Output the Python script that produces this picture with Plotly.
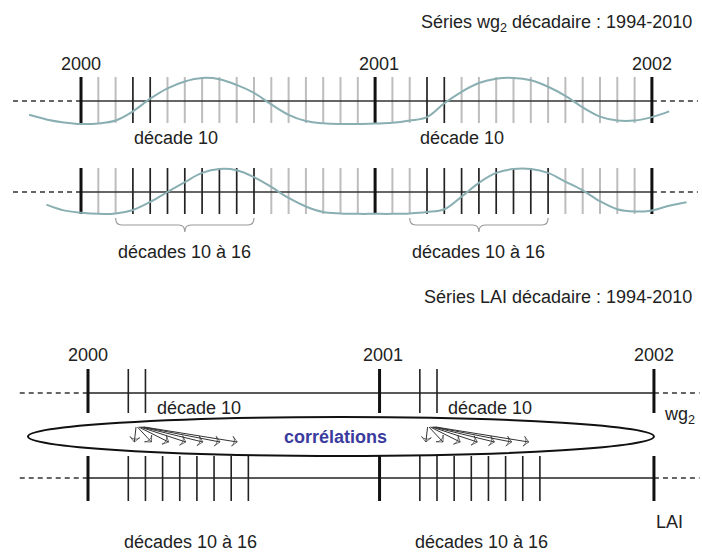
import plotly.graph_objects as go

W, H = 702, 552

# ---------------- data ----------------
years = [2000, 2001, 2002]
year_index = [0, 17, 33]                  # schematic decade-mark index of each 1 January
decade_single = [10, 11]                  # bounds of "décade 10"
decade_range = [10, 11, 12, 13, 14, 15, 16, 17]   # bounds of "décades 10 à 16"
corr_lags = [0, 1, 2, 3, 4, 5, 6]         # lags of the correlation arrows (décade 10 -> 10..16)

# wg2 seasonal curve, read at the decade marks (normalised amplitude)
wave1_t = list(range(-3, 35))
wave1_v = [-0.6, -0.8, -0.93, -1.0, -0.98, -0.85, -0.45, 0.1, 0.55, 0.85, 1.0, 0.95,
           0.7, 0.35, -0.15, -0.6, -0.87, -0.97, -1.0, -1.0, -0.98, -0.95, -0.85, -0.7,
           -0.1, 0.4, 0.78, 0.97, 1.0, 0.9, 0.62, 0.22, -0.28, -0.68, -0.85, -0.85,
           -0.7, -0.45]
wave2_t = list(range(-2, 36))
wave2_v = [-0.55, -0.8, -0.9, -0.95, -0.93, -0.78, -0.43, 0.0, 0.43, 0.83, 1.0, 0.95,
           0.65, 0.22, -0.26, -0.63, -0.87, -0.93, -0.95, -0.95, -0.95, -0.93, -0.87,
           -0.75, -0.2, 0.4, 0.83, 1.0, 1.0, 0.83, 0.45, 0.07, -0.4, -0.75, -0.85, -0.8,
           -0.6, -0.45]

# ---------------- layout constants ----------------
TOP_X0, TOP_DX = 81, 17.3      # pixel of 2000 and decade spacing, upper panels
BOT_X0, BOT_DX = 88, 17.15     # lower panel
TOP_OFF = -7                   # decade bound -> mark offset from the year (upper)
BOT_OFF = -7.65                # idem (lower)
FONT = "Liberation Sans, Arial, sans-serif"
TXT = "#222222"
FS = 18

fig = go.Figure()


def seg(xs, y0, y1):
    X, Y = [], []
    for x in xs:
        X += [x, x, None]
        Y += [y0, y1, None]
    return X, Y


def add_lines(xs, y0, y1, color, width, xa="x"):
    X, Y = seg(xs, y0, y1)
    fig.add_trace(go.Scatter(x=X, y=Y, mode="lines", xaxis=xa, yaxis="y",
                             line=dict(color=color, width=width), hoverinfo="skip",
                             showlegend=False))


def add_hline(x0, x1, y, color, width, dash="solid", xa="x"):
    fig.add_trace(go.Scatter(x=[x0, x1], y=[y, y], mode="lines", xaxis=xa, yaxis="y",
                             line=dict(color=color, width=width, dash=dash),
                             hoverinfo="skip", showlegend=False))


# ---------------- upper panels (wg2) ----------------
rows = [
    dict(base=101, top=77, bot=123, bounds=decade_single, wt=wave1_t, wv=wave1_v, ya="y2"),
    dict(base=192, top=168, bot=214, bounds=decade_range, wt=wave2_t, wv=wave2_v, ya="y3"),
]
first, last = year_index[0], year_index[-1]
for r in rows:
    black = [yi + d + TOP_OFF for yi in year_index[:-1] for d in r["bounds"]]
    gray = [t for t in range(first + 1, last) if t not in black and t not in year_index]
    add_lines(gray, r["top"], r["bot"], "#bdbdbd", 2)
    add_hline(first, last, r["base"], "#333333", 1.6)
    add_hline(first - 3.93, first, r["base"], "#333333", 1.3, dash="5px,4px")
    add_hline(last, last + 2.66, r["base"], "#333333", 1.3, dash="5px,4px")
    fig.add_trace(go.Scatter(x=r["wt"], y=r["wv"], mode="lines", xaxis="x", yaxis=r["ya"],
                             line=dict(color="#8aafb2", width=2, shape="spline", smoothing=1.0),
                             hoverinfo="skip", showlegend=False))
    add_lines(black, r["top"], r["bot"], "#222222", 1.7)
    add_lines(year_index, r["top"], r["bot"], "#111111", 3)

# braces under row 2
for yi in year_index[:-1]:
    a = yi + decade_range[0] + TOP_OFF - 1
    b = yi + decade_range[-1] + TOP_OFF
    m = (a + b) / 2
    e = 0.35
    path = (f"M {a},218 Q {a},225 {a+e},225 L {m-e},225 Q {m},225 {m},232 "
            f"Q {m},225 {m+e},225 L {b-e},225 Q {b},225 {b},218")
    fig.add_shape(type="path", path=path, xref="x", yref="y",
                  line=dict(color="#9a9a9a", width=1.2))

# ---------------- lower panel (wg2 vs LAI) ----------------
bot_rows = [
    dict(base=393, top=369, bot=413, bounds=decade_single),
    dict(base=478, top=456, bot=501, bounds=decade_range),
]
for r in bot_rows:
    ticks = [yi + d + BOT_OFF for yi in year_index[:-1] for d in r["bounds"]]
    add_hline(first, last, r["base"], "#222222", 1.6, xa="x2")
    add_hline(first - 3.98, first, r["base"], "#333333", 1.3, dash="5px,4px", xa="x2")
    add_hline(last, last + 2.66, r["base"], "#333333", 1.3, dash="5px,4px", xa="x2")
    add_lines(ticks, r["top"], r["bot"], "#222222", 1.6, xa="x2")
    add_lines(year_index, r["top"], r["bot"], "#111111", 3, xa="x2")

# ellipse "corrélations"
fig.add_shape(type="circle", xref="x2", yref="y", x0=first - 3.5, x1=last, y0=417, y1=456,
              line=dict(color="#111111", width=2), fillcolor="rgba(0,0,0,0)", layer="above")

# correlation arrows (lines ending in arrow markers)
for yi in year_index[:-1]:
    t10 = yi + decade_range[0] + BOT_OFF
    for k in corr_lags:
        x0, x1 = t10 + 0.45 + 0.08 * k, t10 + k + 0.35
        fig.add_trace(go.Scatter(
            x=[x0, x1], y=[427, 442], mode="lines+markers", xaxis="x2", yaxis="y",
            line=dict(color="#333333", width=1),
            marker=dict(symbol=["circle", "arrow-wide-open"], size=[0, 7],
                        angleref="previous", color="#333333",
                        line=dict(color="#333333", width=1)),
            hoverinfo="skip", showlegend=False))

annotations = []


def label(text, x, y, xref="x", xanchor="center", size=FS, color=TXT, bold=False):
    if bold:
        text = f"<b>{text}</b>"
    annotations.append(dict(text=text, x=x, y=y, xref=xref, yref="y", xanchor=xanchor,
                            yanchor="middle", showarrow=False,
                            font=dict(family=FONT, size=size, color=color)))


# headers
label("Séries wg<sub>2</sub> décadaire : 1994-2010", 694 / W, 23, xref="paper", xanchor="right")
label("Séries LAI décadaire : 1994-2010", 694 / W, 297, xref="paper", xanchor="right")

for y, yi in zip(years, year_index):
    label(str(y), yi + (0.2 if yi == 17 else 0), 64, xref="x")
    label(str(y), yi + (0.2 if yi == 17 else 0), 355, xref="x2")

for yi in year_index[:-1]:
    label("décade 10", yi + decade_single[0] + TOP_OFF + 2.5 - (0.5 if yi else 0), 138, xref="x")
    mid = yi + (decade_range[0] + decade_range[-1]) / 2 + TOP_OFF - 0.5
    label("décades 10 à 16", mid, 252, xref="x")
    t10 = yi + decade_range[0] + BOT_OFF
    label("décade 10", t10 + 4.1, 408, xref="x2")
    label("décades 10 à 16", t10 + 3.6, 542, xref="x2")

label("wg<sub>2</sub>", last + 0.45, 415, xref="x2", xanchor="left")
label("LAI", last, 522, xref="x2", xanchor="left")
label("corrélations", (first - 3.5 + last) / 2 - 0.3, 437, xref="x2", color="#3b3b9e", bold=True)

noax = dict(visible=False, showgrid=False, zeroline=False, fixedrange=True)
fig.update_layout(
    width=W, height=H, margin=dict(l=0, r=0, t=0, b=0),
    paper_bgcolor="white", plot_bgcolor="white", showlegend=False,
    xaxis=dict(range=[-TOP_X0 / TOP_DX, (W - TOP_X0) / TOP_DX], domain=[0, 1], **noax),
    xaxis2=dict(range=[-BOT_X0 / BOT_DX, (W - BOT_X0) / BOT_DX], overlaying="x",
                anchor="y", **noax),
    yaxis=dict(range=[H, 0], domain=[0, 1], **noax),
    yaxis2=dict(range=[(101 - H) / 23, 101 / 23], overlaying="y", anchor="x", **noax),
    yaxis3=dict(range=[(192 - H) / 23, 192 / 23], overlaying="y", anchor="x", **noax),
    annotations=annotations,
)

fig.write_html("out.html", config={"displayModeBar": False},
               post_script="document.body.style.margin='0';document.body.style.padding='0';")
